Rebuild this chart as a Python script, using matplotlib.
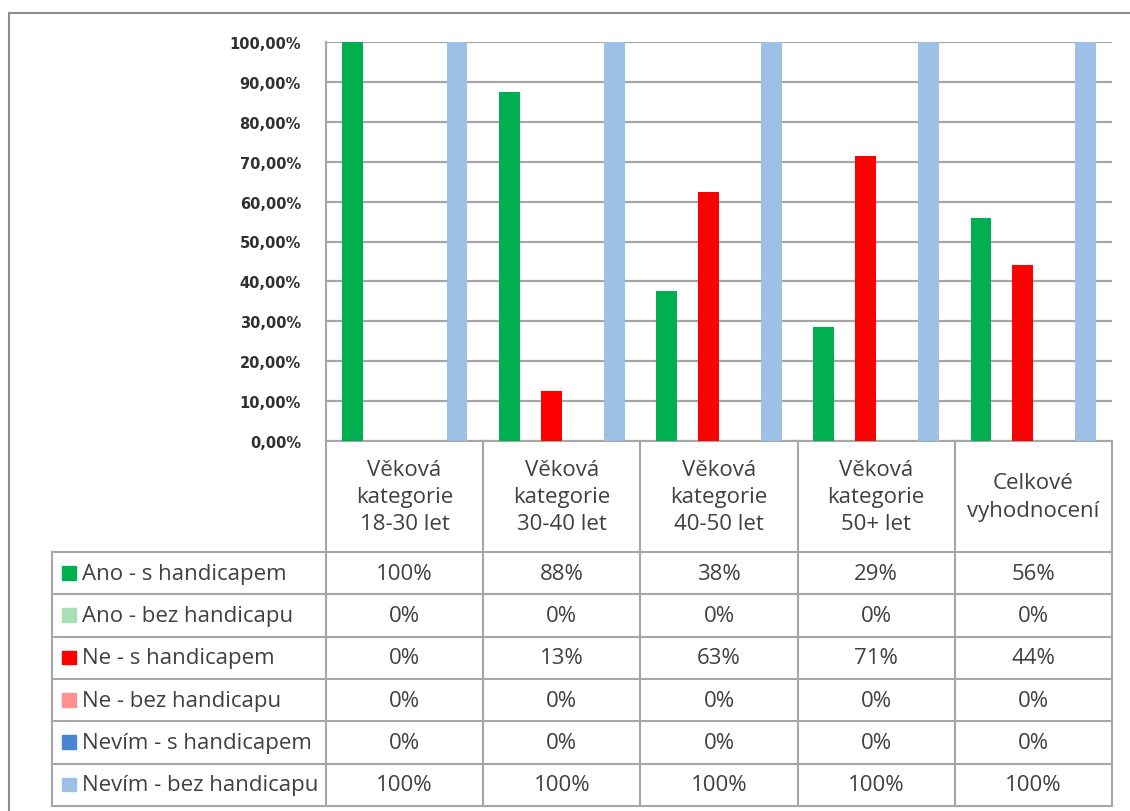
import matplotlib
matplotlib.use('Agg')
import matplotlib.pyplot as plt
from matplotlib.lines import Line2D
from matplotlib.patches import Rectangle
from matplotlib.ticker import FuncFormatter

categories = ['Věková\nkategorie\n18-30 let', 'Věková\nkategorie\n30-40 let',
              'Věková\nkategorie\n40-50 let', 'Věková\nkategorie\n50+ let',
              'Celkové\nvyhodnocení']
series_names = ['Ano - s handicapem', 'Ano - bez handicapu', 'Ne - s handicapem',
                'Ne - bez handicapu', 'Nevím - s handicapem', 'Nevím - bez handicapu']
ano_s = [1.0, 0.875, 0.375, 0.2857, 0.56]
ano_bez = [0.0, 0.0, 0.0, 0.0, 0.0]
ne_s = [0.0, 0.125, 0.625, 0.7143, 0.44]
ne_bez = [0.0, 0.0, 0.0, 0.0, 0.0]
nevim_s = [0.0, 0.0, 0.0, 0.0, 0.0]
nevim_bez = [1.0, 1.0, 1.0, 1.0, 1.0]
colors = ['#00b050', '#a9dfb5', '#ff0000', '#ff9191', '#4a86d0', '#9dc0e6']

all_series = [ano_s, ano_bez, ne_s, ne_bez, nevim_s, nevim_bez]

W, H = 1130, 812
grid_col = '#a6a6a6'
txt_col = '#404040'

def box(x0, y0, x1, y1):
    # pixel box (top-left origin) -> figure fraction rect
    return [x0 / W, 1 - y1 / H, (x1 - x0) / W, (y1 - y0) / H]

def pct(v):
    return '%d%%' % int(v * 100 + 0.5)

fig = plt.figure(figsize=(W / 100, H / 100), dpi=100)

# outer frame of the chart
fig.add_artist(Line2D([9 / W, 9 / W], [0, 1 - 14 / H], color='#8c8c8c', lw=1.5))
fig.add_artist(Line2D([9 / W, 1], [1 - 14 / H, 1 - 14 / H], color='#8c8c8c', lw=1.5))

# bar area
ax = fig.add_axes(box(326, 43, 1112, 442))
n = len(all_series)
bw = 0.8 / n
for i, (vals, c) in enumerate(zip(all_series, colors)):
    xs = [k + (i - (n - 1) / 2) * bw for k in range(len(categories))]
    ax.bar(xs, vals, width=bw, color=c, zorder=3)

ax.set_xlim(-0.5, len(categories) - 0.5)
ax.set_ylim(0, 1)
ax.set_yticks([k / 10 for k in range(11)])
ax.yaxis.set_major_formatter(FuncFormatter(lambda v, p: ('%.2f' % (v * 100)).replace('.', ',') + '%'))
ax.tick_params(axis='y', length=0, pad=18, labelsize=10.5, labelcolor='#303030')
for lab in ax.get_yticklabels():
    lab.set_fontweight('bold')
ax.set_xticks([])
ax.grid(axis='y', color=grid_col, lw=1.6, zorder=0)
for s in ['top', 'right']:
    ax.spines[s].set_visible(False)
ax.spines['left'].set_color(grid_col)
ax.spines['bottom'].set_color(grid_col)
ax.spines['left'].set_linewidth(1.5)
ax.spines['bottom'].set_linewidth(1.5)

# data table below the bars
lab_w = (326 - 52) / ((1112 - 326) / len(categories))
hdr = (553 - 442) / ((807 - 553) / len(series_names))
tab = fig.add_axes(box(52, 442, 1112, 807))
tab.set_xlim(-0.5 - lab_w, len(categories) - 0.5)
tab.set_ylim(hdr + len(series_names), 0)
tab.axis('off')

lkw = dict(color=grid_col, lw=1.5, clip_on=False)
for k in range(len(categories) + 1):
    tab.plot([k - 0.5, k - 0.5], [0, hdr + len(series_names)], **lkw)
tab.plot([-0.5 - lab_w, -0.5 - lab_w], [hdr, hdr + len(series_names)], **lkw)
for r in range(len(series_names) + 1):
    tab.plot([-0.5 - lab_w, len(categories) - 0.5], [hdr + r, hdr + r], **lkw)

font = 'Open Sans'
fs = 16
for k, cat in enumerate(categories):
    tab.text(k, hdr / 2, cat, ha='center', va='center', fontsize=fs,
             color=txt_col, family=font, linespacing=1.38)

sq = 0.085
for r, (name, vals, c) in enumerate(zip(series_names, all_series, colors)):
    yc = hdr + r + 0.5
    x0 = -0.5 - lab_w + 0.065
    tab.add_patch(Rectangle((x0, yc - 0.17), sq, 0.32, color=c, clip_on=False))
    tab.text(x0 + sq + 0.04, yc, name, ha='left', va='center', fontsize=fs,
             color=txt_col, family=font)
    for k, v in enumerate(vals):
        tab.text(k, yc, pct(v), ha='center', va='center', fontsize=fs,
                 color=txt_col, family=font)

fig.savefig('out.png', dpi=100)
